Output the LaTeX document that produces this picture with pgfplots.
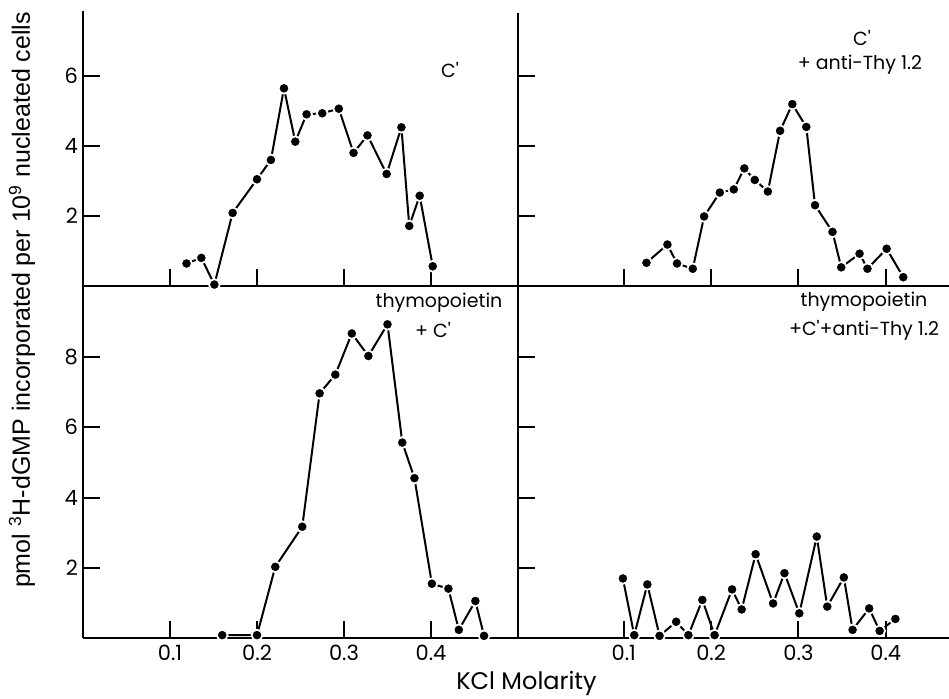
\documentclass[border=0pt]{standalone}
\usepackage{fontspec}
\setmainfont{Poppins}
\newfontfamily\helv{Liberation Sans}
\usepackage{pgfplots}
\pgfplotsset{compat=1.18}

\pgfplotsset{
  panel/.style={
    scale only axis,
    axis x line=bottom, axis y line=left,
    axis line style={line width=1pt, -},
    tick style={line width=1pt, black},
    major tick length=8.5pt,
    tick align=inside,
    xtick={0.1,0.2,0.3,0.4},
    tick label style={font=\fontsize{10.5}{12}\selectfont},
    yticklabel style={xshift=1pt},
    /pgf/number format/assume math mode=true,
    clip=false,
    ymin=0,
  },
  dots/.style={black, line width=1pt, mark=*, mark size=2.7pt,
    mark options={fill=black, draw=white, line width=0.9pt}},
}

\begin{document}
\begin{tikzpicture}
\useasboundingbox (0,0) rectangle (474.5pt,349pt);

% C'
\begin{axis}[panel, at={(41.5pt,205.85pt)}, anchor=south west,
  width=217.5pt, height=137.77pt, xmin=0, xmax=0.5, ymax=7.85,
  ytick={2,4,6}, xticklabels={}]
\addplot[dots] coordinates {
 (0.119,0.65) (0.136,0.81) (0.151,0.05) (0.172,2.09) (0.200,3.05)
 (0.216,3.60) (0.231,5.64) (0.244,4.12) (0.257,4.90) (0.275,4.93)
 (0.294,5.06) (0.311,3.80) (0.327,4.30) (0.349,3.20) (0.366,4.53)
 (0.375,1.72) (0.387,2.58) (0.402,0.57)};
\end{axis}

% C' + anti-Thy 1.2
\begin{axis}[panel, at={(259pt,205.85pt)}, anchor=south west,
  width=215.5pt, height=136.9pt, xmin=-0.0211, xmax=0.4724, ymax=7.8,
  ytick={2,4,6}, xticklabels={}, yticklabels={}]
\addplot[dots] coordinates {
 (0.126,0.67) (0.150,1.19) (0.161,0.65) (0.179,0.50) (0.192,1.99)
 (0.210,2.67) (0.226,2.76) (0.238,3.36) (0.250,3.03) (0.265,2.70)
 (0.279,4.43) (0.293,5.19) (0.309,4.54) (0.319,2.31) (0.339,1.55)
 (0.349,0.54) (0.370,0.93) (0.379,0.50) (0.401,1.07) (0.420,0.26)};
\end{axis}

% thymopoietin + C'
\begin{axis}[panel, at={(41.5pt,29.85pt)}, anchor=south west,
  width=217.5pt, height=176pt, xmin=0, xmax=0.5, ymax=10,
  ytick={2,4,6,8}]
\addplot[dots] coordinates {
 (0.160,0.09) (0.200,0.09) (0.221,2.03) (0.252,3.17) (0.272,6.96)
 (0.290,7.49) (0.309,8.66) (0.328,8.02) (0.350,8.92) (0.367,5.56)
 (0.381,4.55) (0.401,1.55) (0.420,1.41) (0.432,0.24) (0.451,1.06)
 (0.461,0.07)};
\end{axis}

% thymopoietin + C' + anti-Thy 1.2
\begin{axis}[panel, at={(259pt,29.85pt)}, anchor=south west,
  width=215.5pt, height=176pt, xmin=-0.0211, xmax=0.4724, ymax=10,
  ytick={2,4,6,8}, yticklabels={}]
\addplot[dots] coordinates {
 (0.099,1.70) (0.112,0.09) (0.127,1.53) (0.141,0.07) (0.160,0.47)
 (0.174,0.09) (0.190,1.09) (0.204,0.09) (0.224,1.39) (0.235,0.82)
 (0.251,2.39) (0.271,0.99) (0.284,1.85) (0.301,0.71) (0.321,2.89)
 (0.333,0.90) (0.352,1.73) (0.362,0.24) (0.381,0.85) (0.393,0.21)
 (0.411,0.55)};
\end{axis}

% panel labels
\begin{scope}[every node/.style={font=\fontsize{9.5}{11}\selectfont, inner sep=0pt}]
\node at (225pt,314pt) {C\textquotesingle};
\node at (431pt,330pt) {C\textquotesingle};
\node at (430pt,316.5pt) {+ anti-Thy 1.2};
\node at (219.5pt,197.5pt) {thymopoietin};
\node at (216.5pt,184pt) {+ C\textquotesingle};
\node at (432pt,198pt) {thymopoietin};
\node at (432pt,184pt) {+C\textquotesingle+anti-Thy 1.2};
\end{scope}

\node[font=\fontsize{12}{14}\selectfont, inner sep=0pt] at (263.25pt,7.5pt) {KCl Molarity};
\node[rotate=90, font=\helv\fontsize{12.5}{14}\selectfont, inner sep=0pt] at (11pt,199pt)
  {pmol \textsuperscript{3}H-dGMP incorporated per 10\textsuperscript{9} nucleated cells};
\end{tikzpicture}
\end{document}
